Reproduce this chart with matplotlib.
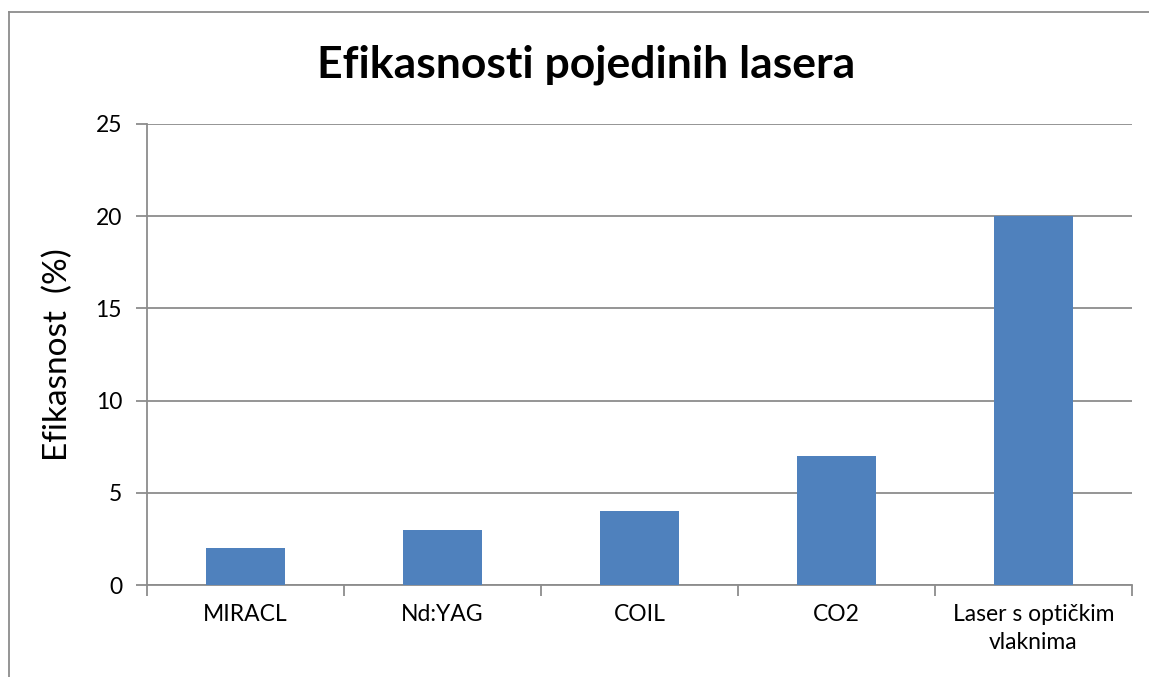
import matplotlib
matplotlib.use("Agg")
import matplotlib.pyplot as plt
from matplotlib.lines import Line2D

categories = ["MIRACL", "Nd:YAG", "COIL", "CO2", "Laser s optičkim\nvlaknima"]
values = [2, 3, 4, 7, 20]
yticks = [0, 5, 10, 15, 20, 25]

plt.rcParams['font.family'] = ['Lato', 'DejaVu Sans']

fig = plt.figure(figsize=(11.49, 6.77), dpi=100)
ax = fig.add_axes([147 / 1149, 92 / 677, 985 / 1149, 461 / 677])

x = list(range(len(categories)))
ax.bar(x, values, width=0.4, color="#4F81BD", zorder=3)

ax.set_xlim(-0.5, len(categories) - 0.5)
ax.set_ylim(0, 25)
ax.set_yticks(yticks)
ax.yaxis.grid(True, color="#8C8C8C", linewidth=1.3, zorder=0)

# category labels centered, tick marks between categories
ax.set_xticks(x)
ax.set_xticklabels(categories, fontsize=16.5, linespacing=1.4)
ax.tick_params(axis="x", length=0, pad=14)
ax.set_xticks([i - 0.5 for i in range(len(categories) + 1)], minor=True)
ax.tick_params(axis="x", which="minor", length=8, width=1.3, color="#8C8C8C")
ax.tick_params(axis="y", length=8, width=1.3, color="#8C8C8C", labelsize=16.5, pad=10)

for s in ["top", "right"]:
    ax.spines[s].set_visible(False)
for s in ["left", "bottom"]:
    ax.spines[s].set_color("#8C8C8C")
    ax.spines[s].set_linewidth(1.3)

ax.set_ylabel("Efikasnost  (%)", fontsize=24, labelpad=16)
fig.text(586 / 1149, 1 - 65 / 677, "Efikasnosti pojedinih lasera", fontsize=32,
         fontweight="bold", ha="center", va="center")

# chart area border (only top and left edges visible in frame)
fig.add_artist(Line2D([9 / 1149, 9 / 1149], [0, 1 - 12 / 677], transform=fig.transFigure,
                      color="#8C8C8C", linewidth=1.3))
fig.add_artist(Line2D([9 / 1149, 1], [1 - 12 / 677, 1 - 12 / 677], transform=fig.transFigure,
                      color="#8C8C8C", linewidth=1.3))

fig.savefig("out.png", dpi=100)
